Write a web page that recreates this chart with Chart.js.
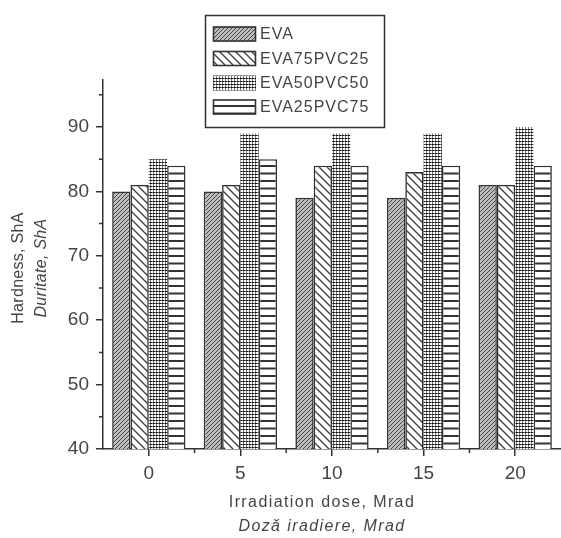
<!DOCTYPE html>
<html>
<head>
<meta charset="UTF-8">
<title>Hardness vs irradiation dose</title>
<style>
  body { margin: 0; background: #fff; }
  canvas { display: block; }
</style>
</head>
<body>
<canvas id="chart" width="561" height="538"></canvas>
<script src="https://cdn.jsdelivr.net/npm/chart.js"></script>
<script>
// data
const doses = ['0', '5', '10', '15', '20'];
const eva = [80, 80, 79, 79, 81];
const eva75pvc25 = [81, 81, 84, 83, 81];
const eva50pvc50 = [85, 89, 89, 89, 90];
const eva25pvc75 = [84, 85, 84, 84, 84];
const seriesNames = ['EVA', 'EVA75PVC25', 'EVA50PVC50', 'EVA25PVC75'];
const yTicks = [40, 50, 60, 70, 80, 90];

const FONT = '"Liberation Sans", Arial, sans-serif';
const INK = '#333';
const TEXT = '#444';

function tile(w, h, draw) {
    const c = document.createElement('canvas');
    c.width = w; c.height = h;
    const g = c.getContext('2d');
    draw(g);
    return g.createPattern(c, 'repeat');
}

// hatches
const pats = [
    tile(4, 4, g => {
        g.fillStyle = '#bdbdbd'; g.fillRect(0, 0, 4, 4);
        g.strokeStyle = '#444'; g.lineWidth = 1;
        g.beginPath();
        g.moveTo(0, 4); g.lineTo(4, 0);
        g.moveTo(-1, 1); g.lineTo(1, -1);
        g.moveTo(3, 5); g.lineTo(5, 3);
        g.stroke();
    }),
    tile(8, 8, g => {
        g.fillStyle = '#fff'; g.fillRect(0, 0, 8, 8);
        g.strokeStyle = '#444'; g.lineWidth = 1.4;
        g.beginPath();
        g.moveTo(0, 0); g.lineTo(8, 8);
        g.moveTo(-1, 7); g.lineTo(1, 9);
        g.moveTo(7, -1); g.lineTo(9, 1);
        g.stroke();
    }),
    tile(3, 3, g => {
        g.fillStyle = '#fff'; g.fillRect(0, 0, 3, 3);
        g.fillStyle = '#777'; g.fillRect(0, 0, 3, 1); g.fillRect(0, 0, 1, 3);
        g.fillStyle = '#111'; g.fillRect(0, 0, 2, 1);
    }),
    tile(4, 15, g => {
        g.fillStyle = '#fff'; g.fillRect(0, 0, 4, 15);
        g.fillStyle = '#333'; g.fillRect(0, 0, 4, 2); g.fillRect(0, 7.5, 4, 2);
    })
];
const borders = [1.6, 1.6, 0, 1.6];

const extras = {
    id: 'extras',
    afterDraw(chart) {
        const ctx = chart.ctx;
        const x = chart.scales.x, y = chart.scales.y;
        ctx.save();
        ctx.strokeStyle = INK;
        ctx.lineWidth = 1.5;
        // minor ticks
        ctx.beginPath();
        for (let v = 45; v < y.max; v += 10) {
            const py = y.getPixelForValue(v);
            ctx.moveTo(x.left, py); ctx.lineTo(x.left - 4, py);
        }
        for (let i = 0; i < doses.length - 1; i++) {
            const px = (x.getPixelForValue(i) + x.getPixelForValue(i + 1)) / 2;
            ctx.moveTo(px, y.bottom); ctx.lineTo(px, y.bottom + 4);
        }
        ctx.stroke();

        // axis titles
        ctx.fillStyle = TEXT;
        ctx.textAlign = 'center';
        ctx.textBaseline = 'middle';
        ctx.letterSpacing = '1.4px';
        ctx.font = '16px ' + FONT;
        ctx.fillText('Irradiation dose, Mrad', 322, 503);
        ctx.font = 'italic 16px ' + FONT;
        ctx.fillText('Dozǎ iradiere, Mrad', 322, 527);
        ctx.letterSpacing = '0.3px';
        ctx.translate(0, 268);
        ctx.rotate(-Math.PI / 2);
        ctx.font = '16px ' + FONT;
        ctx.fillText('Hardness, ShA', 0, 19);
        ctx.font = 'italic 16px ' + FONT;
        ctx.fillText('Duritate, ShA', 0, 42);
        ctx.restore();

        // legend box
        ctx.save();
        ctx.fillStyle = '#fff';
        ctx.fillRect(205, 15, 180, 113);
        ctx.strokeStyle = INK;
        ctx.lineWidth = 1.5;
        ctx.strokeRect(205.5, 15.5, 179, 112);
        const rows = [34, 58.5, 83, 107];
        ctx.font = '16px ' + FONT;
        ctx.letterSpacing = '1px';
        ctx.textBaseline = 'middle';
        seriesNames.forEach((name, i) => {
            const cy = rows[i];
            ctx.fillStyle = pats[i];
            ctx.fillRect(213, cy - 7.5, 43, 15);
            if (borders[i]) {
                ctx.strokeStyle = INK;
                ctx.lineWidth = 1.6;
                ctx.strokeRect(213.5, cy - 7, 42, 14);
            }
            ctx.fillStyle = TEXT;
            ctx.fillText(name, 260, cy + 1);
        });
        ctx.restore();
    }
};

const series = [eva, eva75pvc25, eva50pvc50, eva25pvc75];

new Chart(document.getElementById('chart'), {
    type: 'bar',
    data: {
        labels: doses,
        datasets: series.map((d, i) => ({
            label: seriesNames[i],
            data: d,
            backgroundColor: pats[i],
            borderColor: INK,
            borderWidth: borders[i],
            borderSkipped: 'start',
            barPercentage: 1,
            categoryPercentage: 0.8
        }))
    },
    options: {
        responsive: false,
        devicePixelRatio: 1,
        animation: false,
        layout: { padding: { top: 80, left: 0, right: 0, bottom: 0 } },
        plugins: { legend: { display: false }, tooltip: { enabled: false } },
        scales: {
            x: {
                offset: true,
                grid: { display: true, drawOnChartArea: false, offset: false, tickLength: 7, color: INK, lineWidth: 1.5 },
                border: { color: INK, width: 1.5 },
                ticks: { color: TEXT, font: { family: FONT, size: 19 }, padding: 6 },
                afterFit(s) { s.height = 89; }
            },
            y: {
                min: 40,
                max: 97.3,
                grid: { display: true, drawOnChartArea: false, tickLength: 7, color: INK, lineWidth: 1.5 },
                border: { color: INK, width: 1.5 },
                ticks: { color: TEXT, font: { family: FONT, size: 19 }, padding: 7 },
                afterBuildTicks(s) { s.ticks = yTicks.map(v => ({ value: v })); },
                afterFit(s) { s.width = 103; }
            }
        }
    },
    plugins: [extras]
});
</script>
</body>
</html>
